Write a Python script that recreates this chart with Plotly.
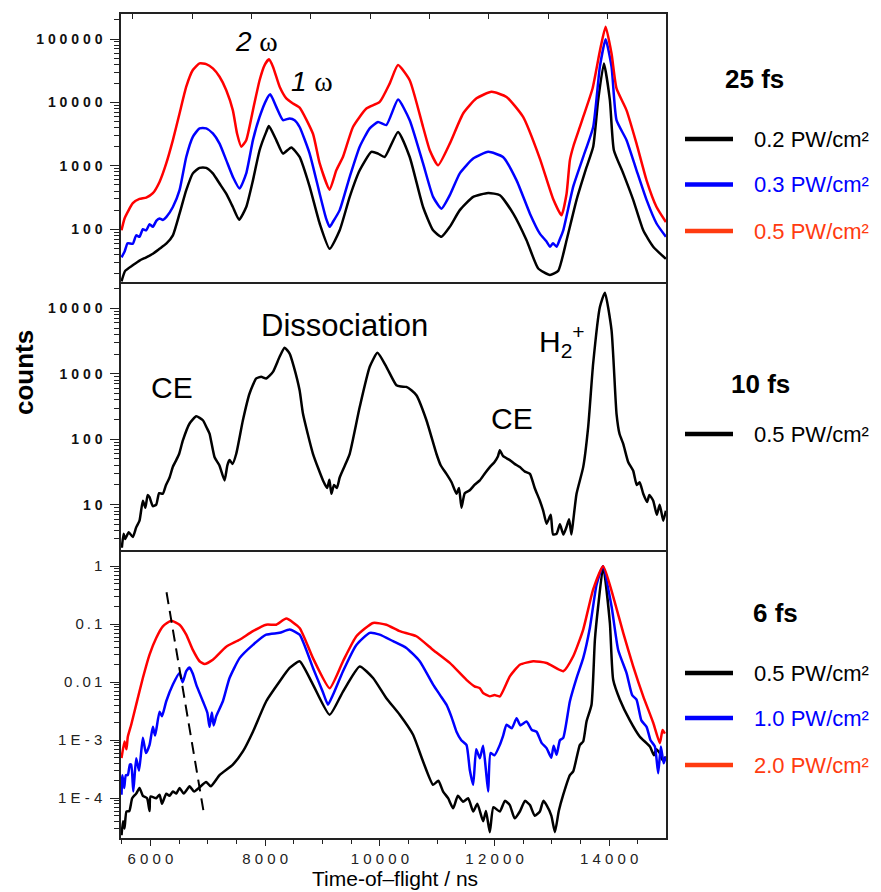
import plotly.graph_objects as go

# ---------------- data: 25 fs panel (counts) ----------------
tof_25_02 = [5494, 5558, 5691, 5808, 5925, 6041, 6157, 6274, 6390, 6506, 6623, 6738, 6855, 6971, 7087, 7204, 7320,
             7436, 7545, 7669, 7786, 7902, 8018, 8065, 8193, 8310, 8455, 8600, 8775, 8950, 9124, 9299, 9474, 9648,
             9852, 9968, 10084, 10317, 10520, 10753, 10928, 11074, 11219, 11394, 11627, 11889, 12093, 12326, 12558,
             12762, 12966, 13110, 13256, 13430, 13604, 13720, 13807, 13907, 14011, 14081, 14244, 14418, 14593, 14767,
             14988]
cnt_25_02 = [15, 22, 27, 32, 36, 41, 49, 59, 80, 176, 412, 760, 930, 930, 760, 525, 363,
             224, 141, 224, 590, 1760, 3430, 4230, 2540, 1560, 1950, 1380, 470, 123, 49, 96, 324, 850,
             1660, 1560, 1380, 3430, 1380, 224, 96, 76, 109, 200, 324, 373, 344, 176, 67,
             24, 19, 22, 67, 290, 950, 2000, 10900, 41300, 10900, 1760, 760, 290, 96, 53,
             34]

tof_25_03 = [5494, 5550, 5600, 5691, 5750, 5808, 5866, 5925, 5983, 6041, 6100, 6157, 6215, 6274, 6390, 6506, 6623,
             6738, 6855, 6971, 7087, 7204, 7320, 7436, 7553, 7669, 7786, 7902, 8018, 8088, 8193, 8310, 8426, 8513,
             8600, 8775, 8950, 9060, 9124, 9180, 9299, 9474, 9648, 9823, 9968, 10113, 10317, 10520, 10753, 10928,
             11074, 11219, 11394, 11627, 11889, 12147, 12384, 12617, 12790, 12900, 12966, 13020, 13082, 13140, 13198,
             13372, 13546, 13720, 13837, 13937, 14040, 14127, 14302, 14476, 14651, 14825, 14988]
cnt_25_03 = [36, 45, 60, 59, 80, 76, 100, 96, 120, 109, 135, 148, 140, 155, 224, 412, 1380,
             2870, 3900, 3900, 3240, 2240, 1230, 670, 437, 760, 2540, 5900, 10900, 13400, 8500, 5250, 5600, 5250,
             4100, 1560, 363, 150, 109, 130, 200, 670, 2000, 3900, 4900, 4400, 11100, 5250, 1090, 324,
             211, 344, 760, 1300, 1660, 1380, 590, 176, 85, 65, 53, 60, 53, 70, 96,
             470, 1380, 4100, 36700, 99000, 36700, 5250, 2540, 850, 290, 123, 76]

tof_25_05 = [5494, 5550, 5691, 5808, 5925, 6041, 6157, 6274, 6390, 6506, 6623, 6738, 6855, 6971, 7087, 7204, 7321,
             7436, 7510, 7583, 7669, 7786, 7902, 7990, 8065, 8135, 8252, 8368, 8484, 8600, 8833, 8950, 9124, 9240,
             9357, 9531, 9765, 9997, 10172, 10316, 10520, 10753, 10870, 11015, 11219, 11452, 11685, 11947, 12209,
             12498, 12790, 13022, 13168, 13256, 13314, 13372, 13488, 13546, 13709, 13840, 13937, 14040, 14127, 14302,
             14476, 14651, 14825, 14988]
cnt_25_05 = [96, 150, 257, 300, 316, 370, 557, 1090, 2540, 6700, 17700, 32400, 41300, 40300, 34400, 25400, 15600,
             7500, 3200, 2000, 2540, 7550, 22400, 38800, 47800, 36700, 17700, 11600, 9640, 8300, 3200, 1090, 420, 850,
             1390, 4100, 8000, 10200, 20000, 38800, 22400, 4100, 1760, 1020, 2240, 6700, 11600, 14700, 12200,
             5900, 1300, 300, 166, 363, 1230, 2000, 4100, 5900, 16600, 67000, 156000, 59000, 16600, 7500,
             2240, 590, 224, 130]

# ---------------- data: 10 fs panel (counts) ----------------
tof_10_05 = [5500, 5530, 5558, 5620, 5691, 5750, 5808, 5866, 5910, 5950, 5983, 6040, 6099, 6150, 6215, 6270, 6332,
             6390, 6448, 6500, 6564, 6681, 6797, 6913, 6980, 7029, 7117, 7200, 7291, 7340, 7378, 7430, 7495, 7611,
             7727, 7844, 7930, 8018, 8135, 8251, 8338, 8426, 8500, 8600, 8659, 8833, 9008, 9080, 9120, 9154, 9200,
             9250, 9299, 9380, 9474, 9648, 9823, 9957, 10113, 10288, 10370, 10462, 10550, 10637, 10812, 10986,
             11060, 11161, 11250, 11336, 11380, 11423, 11480, 11568, 11650, 11743, 11830, 11917, 12000, 12060,
             12092, 12150, 12266, 12350, 12441, 12530, 12617, 12700, 12790, 12850, 12907, 12980, 13020, 13082,
             13140, 13200, 13256, 13300, 13340, 13372, 13430, 13546, 13633, 13720, 13837, 13924, 14040, 14127,
             14180, 14244, 14330, 14418, 14480, 14530, 14593, 14660, 14700, 14767, 14830, 14880, 14942, 14988]
cnt_10_05 = [2.2, 3.6, 3.0, 3.8, 3.2, 4.5, 5.7, 11.5, 9, 14, 13, 9.5, 10, 15, 14.7, 20, 26,
             38, 48, 60, 96, 174, 224, 195, 150, 122, 53, 40, 23.5, 40, 48, 42, 60, 195,
             500, 850, 900, 850, 1070, 1820, 2500, 2040, 1280, 560, 245, 60, 23.5, 18, 24, 14.7, 20,
             18, 26, 38, 60, 310, 1280, 2090, 1280, 670, 640, 630, 560, 470, 195, 60,
             40, 29.5, 22, 14.7, 18, 9, 15, 16.6, 20, 23.5, 30, 37.5, 45, 55,
             68, 55, 48, 42, 37.5, 32, 29.5, 18, 11.5, 8, 5.1, 7, 3.5, 3.6,
             5, 3.5, 4.6, 6, 3.5, 5.7, 14.7, 37.5, 155, 1450, 10500, 17400, 4660, 245,
             120, 85, 45, 33, 20, 22, 14.7, 11, 14, 11.5, 7, 10, 5.7, 8.1]

# ---------------- data: 6 fs panel (normalised counts) ----------------
tof_6_05 = [5494, 5520, 5546, 5580, 5630, 5680, 5750, 5808, 5866, 5940, 5983, 6000, 6099, 6157, 6200, 6274, 6330,
            6390, 6450, 6506, 6580, 6681, 6760, 6971, 7050, 7204, 7436, 7611, 7786, 8018, 8251, 8426, 8600, 8833,
            9124, 9357, 9648, 9881, 10113, 10346, 10579, 10753, 10928, 11020, 11103, 11190, 11278, 11360, 11452,
            11540, 11627, 11700, 11801, 11850, 11917, 11980, 12092, 12180, 12266, 12350, 12441, 12530, 12617,
            12700, 12790, 12850, 12907, 12990, 13053, 13120, 13198, 13314, 13372, 13488, 13546, 13604, 13691,
            13750, 13807, 13895, 14011, 14069, 14186, 14360, 14534, 14709, 14780, 14820, 14883, 14930, 14988]
cnt_6_05 = [2.3e-5, 4e-5, 3e-5, 5.9e-5, 6e-5, 1e-4, 1.2e-4, 1.5e-4, 1.1e-4, 1.0e-4, 6e-5, 1.07e-4, 1.0e-4, 1.15e-4,
            8e-5, 1.2e-4, 1.1e-4, 1.3e-4, 1.2e-4, 1.5e-4, 1.2e-4, 1.6e-4, 1.3e-4, 1.9e-4, 1.6e-4, 2.5e-4, 3.8e-4,
            6.4e-4, 1.4e-3, 4.7e-3, 0.0103, 0.0176, 0.023, 9.1e-3, 2.75e-3, 6.9e-3, 0.0187, 0.0118, 5.3e-3,
            2.75e-3, 1.24e-3, 4.3e-4, 1.7e-4, 2e-4, 1.3e-4, 1.0e-4, 6.7e-5, 1.1e-4, 8.7e-5, 1.0e-4, 5.9e-5, 8e-5,
            4e-5, 6e-5, 2.6e-5, 7e-5, 5.9e-5, 9e-5, 7.6e-5, 4.5e-5, 5.9e-5, 9e-5, 7.6e-5, 5e-5, 5.9e-5, 9e-5,
            7.6e-5, 5e-5, 2.6e-5, 6e-5, 1.15e-4, 2.5e-4, 2.9e-4, 8.3e-4, 9.5e-4, 2.1e-3, 4.1e-3, 0.054, 0.204,
            1.0, 0.105, 0.011, 5e-3, 2.2e-3, 1.15e-3, 7.8e-4, 5.5e-4, 7e-4, 6e-4, 4.5e-4, 5.2e-4]

tof_6_10 = [5494, 5510, 5540, 5570, 5604, 5640, 5663, 5700, 5750, 5800, 5866, 5920, 5983, 6041, 6080, 6157, 6200,
            6274, 6390, 6506, 6560, 6623, 6681, 6738, 6797, 6913, 6990, 7029, 7070, 7100, 7146, 7262, 7378, 7553,
            7786, 8018, 8251, 8426, 8600, 8833, 9000, 9095, 9180, 9357, 9590, 9823, 9997, 10230, 10462, 10695,
            10928, 11050, 11161, 11250, 11336, 11420, 11510, 11570, 11627, 11680, 11743, 11800, 11850, 11889,
            11930, 12000, 12092, 12150, 12209, 12300, 12384, 12450, 12558, 12650, 12733, 12820, 12907, 12990,
            13030, 13082, 13140, 13198, 13314, 13430, 13546, 13662, 13779, 13890, 14040, 14156, 14302, 14400,
            14476, 14560, 14651, 14720, 14796, 14854, 14900, 14950, 14988]
cnt_6_10 = [1.15e-4, 2.5e-4, 1.5e-4, 2.5e-4, 2.5e-4, 3.8e-4, 3.8e-4, 1.3e-4, 4.9e-4, 3e-4, 1.1e-3, 6e-4, 8.3e-4,
            1.7e-3, 1.2e-3, 3.1e-3, 2.6e-3, 4.7e-3, 9.1e-3, 0.0144, 0.010, 0.0155, 0.018, 0.014, 9.1e-3, 4.7e-3,
            3.0e-3, 1.7e-3, 3.0e-3, 1.8e-3, 2.6e-3, 4.7e-3, 0.0118, 0.026, 0.044, 0.066, 0.071, 0.081, 0.066,
            0.0176, 0.007, 4.1e-3, 0.006, 0.0155, 0.044, 0.071, 0.066, 0.051, 0.039, 0.023, 9.1e-3, 0.006, 4.1e-3,
            2.5e-3, 1.4e-3, 1.0e-3, 8.3e-4, 3e-4, 1.7e-4, 7e-4, 4.9e-4, 8e-4, 3e-4, 1.3e-4, 6e-4, 5.5e-4, 8.3e-4,
            1.2e-3, 1.85e-3, 1.6e-3, 2.4e-3, 1.8e-3, 2.1e-3, 1.5e-3, 1.4e-3, 9e-4, 7.3e-4, 5e-4, 8e-4, 5.6e-4,
            1.0e-3, 1.1e-3, 4.7e-3, 0.0118, 0.026, 0.086, 0.48, 1.0, 0.204, 0.036, 0.0144, 0.006, 5e-3, 2.2e-3,
            1.7e-3, 1.0e-3, 7.8e-4, 2.7e-4, 7.8e-4, 4e-4, 5.2e-4]

tof_6_20 = [5494, 5546, 5580, 5604, 5663, 5750, 5866, 5983, 6099, 6215, 6361, 6506, 6623, 6738, 6855, 6942, 7087,
            7320, 7553, 7786, 8018, 8193, 8368, 8600, 8833, 9124, 9357, 9590, 9881, 10113, 10346, 10637, 10928,
            11219, 11510, 11650, 11743, 11800, 11917, 12000, 12092, 12266, 12441, 12674, 12907, 13198, 13372,
            13546, 13720, 13895, 14069, 14244, 14418, 14593, 14767, 14883, 14930, 14971]
cnt_6_20 = [4.9e-4, 9.5e-4, 7e-4, 1.15e-3, 1.85e-3, 4.1e-3, 0.0118, 0.030, 0.058, 0.092, 0.115, 0.098, 0.066, 0.036,
            0.023, 0.0206, 0.0245, 0.041, 0.054, 0.076, 0.098, 0.098, 0.125, 0.086, 0.026, 0.0079, 0.023, 0.062,
            0.105, 0.098, 0.076, 0.062, 0.036, 0.0215, 0.011, 0.0085, 0.0079, 0.0065, 0.0057, 0.006, 0.0057,
            0.0126, 0.020, 0.023, 0.0215, 0.0155, 0.028, 0.081, 0.40, 1.0, 0.30, 0.071, 0.0187, 0.0057, 0.0020,
            0.00089, 0.0015, 0.0013]

# guide line (dashed) in the 6 fs panel
guide_tof = [6279, 6925]
guide_val = [0.356, 5.9e-5]

# inward tick marks along the top edge of the 25 fs panel
top_edge_ticks = [5691, 6726, 7760, 8795, 9829, 10864, 11899, 12933, 13968]

legend_25 = ["0.2 PW/cm²", "0.3 PW/cm²", "0.5 PW/cm²"]
legend_10 = ["0.5 PW/cm²"]
legend_6 = ["0.5 PW/cm²", "1.0 PW/cm²", "2.0 PW/cm²"]

BLACK, BLUE, RED, LRED = "#000000", "#0000ff", "#ff0000", "#ff3b10"
FONT = "Arial, Liberation Sans, sans-serif"
AX = "#222222"

fig = go.Figure()


def add(x, y, color, xa, ya, width=2.5):
    fig.add_trace(go.Scatter(x=x, y=y, mode="lines", xaxis=xa, yaxis=ya,
                             line=dict(color=color, width=width, shape="spline", smoothing=0.5),
                             hoverinfo="skip", showlegend=False))


add(tof_25_02, cnt_25_02, BLACK, "x", "y")
add(tof_25_03, cnt_25_03, BLUE, "x", "y")
add(tof_25_05, cnt_25_05, RED, "x", "y")
add(tof_10_05, cnt_10_05, BLACK, "x2", "y2")
add(tof_6_05, cnt_6_05, BLACK, "x3", "y3")
add(tof_6_10, cnt_6_10, BLUE, "x3", "y3")
add(tof_6_20, cnt_6_20, RED, "x3", "y3")
fig.add_trace(go.Scatter(x=guide_tof, y=guide_val, mode="lines", xaxis="x3", yaxis="y3",
                         line=dict(color="black", width=2, dash="12px,7px"), hoverinfo="skip", showlegend=False))

XR = [5485, 14990]
L, R, T, B = 121, 215, 14, 54
W, H = 881, 892
PW, PH = W - L - R, H - T - B


def px(x):
    return (x - L) / PW


def py(y):
    return (H - B - y) / PH


d1 = py(282)
d2 = py(549.5)


def spaced(v, sep=" "):
    return sep.join(str(v))


def alias_for(vals, sep=" "):
    out = {}
    for v in vals:
        out[str(v)] = spaced(v, sep)
        out[f"{v:,}"] = spaced(v, sep)
    return out


xcommon = dict(range=XR, showline=True, linecolor=AX, linewidth=1.5, showgrid=False, zeroline=False)
ycommon = dict(type="log", showline=True, linecolor=AX, linewidth=1.5, mirror=True, showgrid=False,
               zeroline=False, ticks="outside", ticklen=9, tickwidth=1.3, tickcolor=AX, dtick=1, tick0=0,
               exponentformat="none", ticklabelstandoff=5,
               minor=dict(ticks="outside", ticklen=5, tickwidth=1, tickcolor=AX, dtick="D1", showgrid=False))

ts = "\u2009"
alias_big = alias_for([10, 100, 1000, 10000, 100000])
alias_small = {"1": "1", "0.1": ts.join("0.1"), "0.01": ts.join("0.01"),
               "0.001": "1 E - 3", "0.0001": "1 E - 4"}
alias_x = alias_for([6000, 8000, 10000, 12000, 14000])

fig.update_layout(
    width=W, height=H, margin=dict(l=L, r=R, t=T, b=B),
    paper_bgcolor="white", plot_bgcolor="white", showlegend=False,
    font=dict(family=FONT, color="black"),
    xaxis=dict(xcommon, anchor="y", side="top", mirror=True, tickmode="array", tickvals=top_edge_ticks,
               ticks="inside", ticklen=5, tickwidth=1.3, tickcolor=AX, showticklabels=False),
    xaxis2=dict(xcommon, anchor="y2", ticks="", showticklabels=False, matches="x"),
    xaxis3=dict(xcommon, anchor="y3", ticks="outside", ticklen=6, tickwidth=1.3, tickcolor=AX, dtick=2000,
                tick0=0, exponentformat="none", labelalias=alias_x,
                tickfont=dict(size=15, color="#222"), matches="x",
                minor=dict(ticks="outside", ticklen=4, tickwidth=1, tickcolor=AX, dtick=500)),
    yaxis=dict(ycommon, domain=[d1, 1], range=[1.167, 5.395], anchor="x", labelalias=alias_big,
               tickfont=dict(size=14, color="#111", weight="bold")),
    yaxis2=dict(ycommon, domain=[d2, d1], range=[0.315, 4.403], anchor="x2", labelalias=alias_big,
                tickfont=dict(size=14, color="#111", weight="bold")),
    yaxis3=dict(ycommon, domain=[0, d2], range=[-4.686, 0.288], anchor="x3", labelalias=alias_small,
                tickfont=dict(size=15, color="#222")),
)

ann = []


def text(x, y, t, size, color="black", bold=False, xanchor="center", angle=0, italic=False):
    ann.append(dict(x=px(x), y=py(y), xref="paper", yref="paper", text=t, showarrow=False,
                    xanchor=xanchor, yanchor="middle", textangle=angle,
                    font=dict(family=FONT, size=size, color=color, weight="bold" if bold else "normal",
                              style="italic" if italic else "normal")))


OMEGA = "<span style='font-family:Liberation Serif;font-style:normal'>ω</span>"
text(256, 41, "2 " + OMEGA, 28, italic=True)
text(312, 82, "1 " + OMEGA, 28, italic=True)
text(344, 325, "Dissociation", 31)
text(172, 387, "CE", 30)
text(512, 418, "CE", 30)
text(562, 341, "H<sub>2</sub><sup>+</sup>", 30)
text(24, 373, "counts", 26, bold=True, angle=-90)
text(395, 878, "Time-of–flight / ns", 21)

shapes = []


def legend_block(title, tx, tyy, labels, colors, ys):
    text(tx, tyy, title, 26, bold=True)
    for lab, col, yy in zip(labels, colors, ys):
        shapes.append(dict(type="line", xref="paper", yref="paper", x0=px(685), x1=px(733), y0=py(yy),
                           y1=py(yy), line=dict(color=col, width=4.5)))
        text(752, yy, lab, 22, color=col, xanchor="left")


legend_block("25 fs", 754, 79, legend_25, [BLACK, BLUE, LRED], [139, 184.5, 231])
legend_block("10 fs", 760, 384, legend_10, [BLACK], [434])
legend_block("6 fs", 775, 613, legend_6, [BLACK, BLUE, LRED], [673, 718, 765])

fig.update_layout(annotations=ann, shapes=shapes)
fig.write_html("out.html")
